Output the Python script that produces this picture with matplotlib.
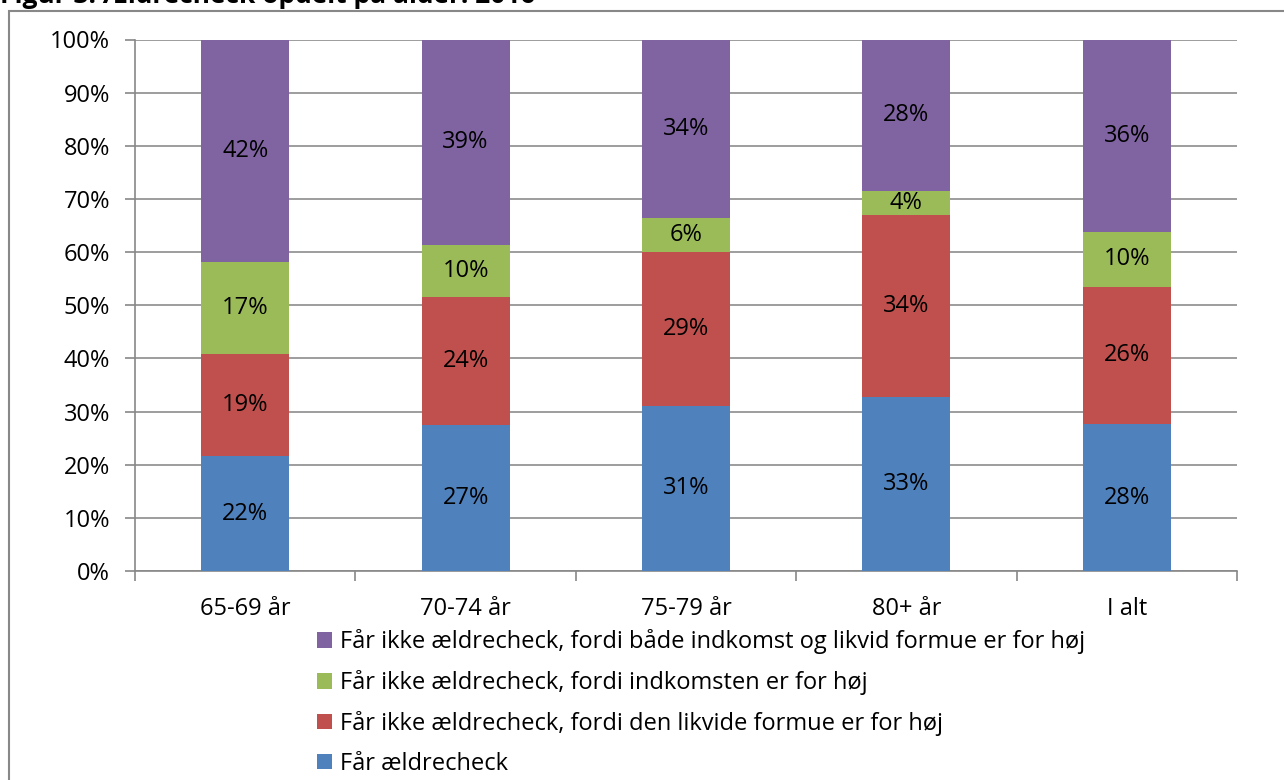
import matplotlib.pyplot as plt
import matplotlib.patches as mpatches
import numpy as np

plt.rcParams['font.family'] = ['Open Sans', 'DejaVu Sans']

# data (percent of each age group)
categories = ['65-69 år', '70-74 år', '75-79 år', '80+ år', 'I alt']
faar = [21.6, 27.4, 31.1, 32.8, 27.6]
formue = [19.2, 24.2, 29.0, 34.2, 25.9]
indkomst = [17.4, 9.8, 6.4, 4.5, 10.3]
begge = [41.8, 38.6, 33.5, 28.5, 36.2]

series = [
    ('Får ældrecheck', faar, '#4F81BD'),
    ('Får ikke ældrecheck, fordi den likvide formue er for høj', formue, '#C0504D'),
    ('Får ikke ældrecheck, fordi indkomsten er for høj', indkomst, '#9BBB59'),
    ('Får ikke ældrecheck, fordi både indkomst og likvid formue er for høj', begge, '#8064A2'),
]

FS = 17

fig = plt.figure(figsize=(12.84, 7.8), dpi=100)
ax = fig.add_axes([135 / 1284, 1 - 571 / 780, 1102 / 1284, 531.5 / 780])

# outer chart border (runs off the right and bottom of the picture)
fig.patches.append(mpatches.Rectangle((9 / 1284, -0.1), 1.2, 1 - 11 / 780 + 0.1,
                                      transform=fig.transFigure, fill=False,
                                      edgecolor='#888888', linewidth=1.5))
fig.text(0.0, 1 - 3 / 780, 'Figur 3: Ældrecheck opdelt på alder. 2016',
         fontsize=19, fontweight='bold', va='baseline', ha='left')

x = np.arange(len(categories))
bottom = np.zeros(len(categories))
handles = []
for label, vals, color in series:
    vals = np.array(vals)
    b = ax.bar(x, vals, 0.4, bottom=bottom, color=color, label=label, zorder=3)
    handles.append(b)
    for xi, v, bt in zip(x, vals, bottom):
        ax.text(xi, bt + v / 2, '%d%%' % round(v), ha='center', va='center',
                fontsize=FS, zorder=4)
    bottom += vals

ax.set_xlim(-0.5, len(categories) - 0.5)
ax.set_ylim(0, 100)
ax.set_yticks(np.arange(0, 101, 10))
ax.set_yticklabels(['%d%%' % v for v in range(0, 101, 10)], fontsize=FS)
ax.yaxis.grid(True, color='#8c8c8c', linewidth=1.2, zorder=0)

ax.set_xticks(np.arange(-0.5, len(categories), 1))
ax.set_xticklabels([])
ax.set_xticks(x, minor=True)
ax.set_xticklabels(categories, minor=True, fontsize=FS)
ax.tick_params(axis='x', which='major', length=7, color='#888888', width=1.2)
ax.tick_params(axis='x', which='minor', length=0, pad=19)
ax.tick_params(axis='y', length=7, color='#888888', width=1.2, pad=11)

for side in ['top', 'right']:
    ax.spines[side].set_visible(False)
ax.spines['left'].set_color('#888888')
ax.spines['bottom'].set_color('#888888')
ax.spines['left'].set_linewidth(1.2)
ax.spines['bottom'].set_linewidth(1.2)

fig.legend(handles[::-1], [s[0] for s in series][::-1], loc='upper left',
           bbox_to_anchor=(308 / 1284, 1 - 620 / 780), frameon=False,
           fontsize=FS, handlelength=0.62, handleheight=0.62, handletextpad=0.35,
           labelspacing=0.67, borderaxespad=0)

fig.savefig('out.png', dpi=100)
